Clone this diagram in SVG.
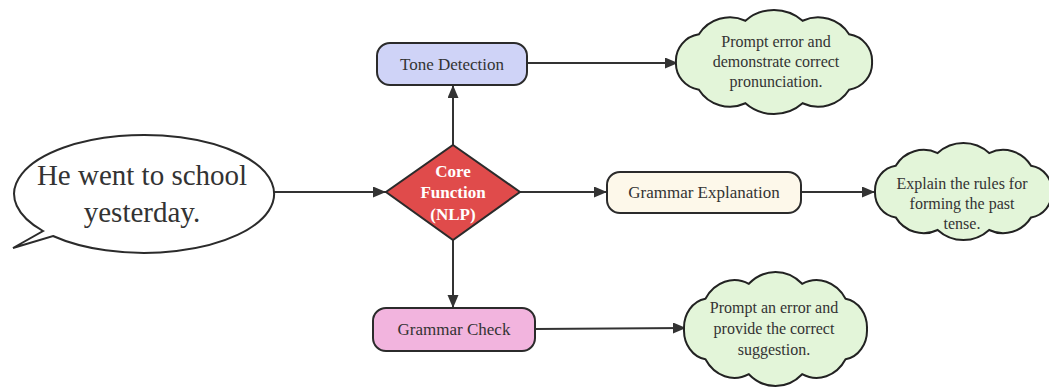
<svg xmlns="http://www.w3.org/2000/svg" xmlns:xlink="http://www.w3.org/1999/xlink" width="1049" height="388" viewBox="0 0 1049 388">
<style>
.t{font-family:"Liberation Serif","Times New Roman",serif;fill:#333;text-anchor:middle}
.n{font-size:17px}
.c{font-size:16px}
.box{stroke:#2b2b2b;stroke-width:2}
.cloud{fill:#E3F5D9;stroke:#222;stroke-width:2;vector-effect:non-scaling-stroke}
.edge{stroke:#333;stroke-width:2;fill:none;marker-end:url(#arr)}
</style>
<defs>
<marker id="arr" markerUnits="userSpaceOnUse" markerWidth="14" markerHeight="12" refX="13" refY="5.5" orient="auto">
<path d="M0,0 L13,5.5 L0,11 z" fill="#333"/>
</marker>
<path id="cloudShape" class="cloud" d="M28,77 A26,26 0 0 1 6,50 A26,26 0 0 1 28,23 A35,35 0 0 1 72.6,9.8 A41,41 0 0 1 127.4,9.8 A35,35 0 0 1 172,23 A26,26 0 0 1 194,50 A26,26 0 0 1 172,77 A35,35 0 0 1 127.4,90.2 A41,41 0 0 1 72.6,90.2 A35,35 0 0 1 28,77 Z"/>
</defs>
<rect width="1049" height="388" fill="#fff"/>

<g id="connectors">
<line class="edge" x1="272" y1="192" x2="386" y2="192"/>
<line class="edge" x1="453" y1="145" x2="453" y2="85"/>
<line class="edge" x1="527" y1="63" x2="678" y2="63"/>
<line class="edge" x1="520" y1="192" x2="607" y2="192"/>
<line class="edge" x1="801" y1="192" x2="875" y2="192"/>
<line class="edge" x1="453" y1="240" x2="453" y2="308"/>
<line class="edge" x1="535" y1="329" x2="686" y2="328"/>
</g>

<g id="speech">
<path d="M53,236 A130,59 0 1 0 43,231 L13,248 Z" fill="#fff" stroke="#2b2b2b" stroke-width="2"/>
<text class="t" x="142" y="185" font-size="29">He went to school</text>
<text class="t" x="142" y="222" font-size="29">yesterday.</text>
</g>

<g id="core">
<polygon class="box" points="453,145 520,192 453,240 386,192" fill="#E04B4B"/>
<text class="t" x="453" y="177" font-size="17" font-weight="bold" style="fill:#fff">Core</text>
<text class="t" x="453" y="198" font-size="17" font-weight="bold" style="fill:#fff">Function</text>
<text class="t" x="453" y="220" font-size="17" font-weight="bold" style="fill:#fff">(NLP)</text>
</g>

<g id="tone">
<rect class="box" x="377" y="43" width="150" height="42" rx="13" fill="#CFD3F7"/>
<text class="t n" x="452" y="70">Tone Detection</text>
</g>

<g id="explain">
<rect class="box" x="607" y="172" width="194" height="41" rx="13" fill="#FDF8EA"/>
<text class="t n" x="704" y="198">Grammar Explanation</text>
</g>

<g id="check">
<rect class="box" x="373" y="308" width="162" height="43" rx="13" fill="#F2B4DE"/>
<text class="t n" x="454" y="335">Grammar Check</text>
</g>

<g id="cloud1">
<use xlink:href="#cloudShape" transform="translate(669.7,10.7) scale(1.043,1.026)"/>
<text class="t c" x="776" y="47">Prompt error and</text>
<text class="t c" x="776" y="67">demonstrate correct</text>
<text class="t c" x="776" y="87">pronunciation.</text>
</g>

<g id="cloud2">
<use xlink:href="#cloudShape" transform="translate(869.4,143.7) scale(0.94,0.957)"/>
<text class="t c" x="962" y="189">Explain the rules for</text>
<text class="t c" x="962" y="209">forming the past</text>
<text class="t c" x="962" y="229">tense.</text>
</g>

<g id="cloud3">
<use xlink:href="#cloudShape" transform="translate(678.2,272.8) scale(0.973,1.124)"/>
<text class="t c" x="774" y="313">Prompt an error and</text>
<text class="t c" x="774" y="334">provide the correct</text>
<text class="t c" x="774" y="355">suggestion.</text>
</g>
</svg>
